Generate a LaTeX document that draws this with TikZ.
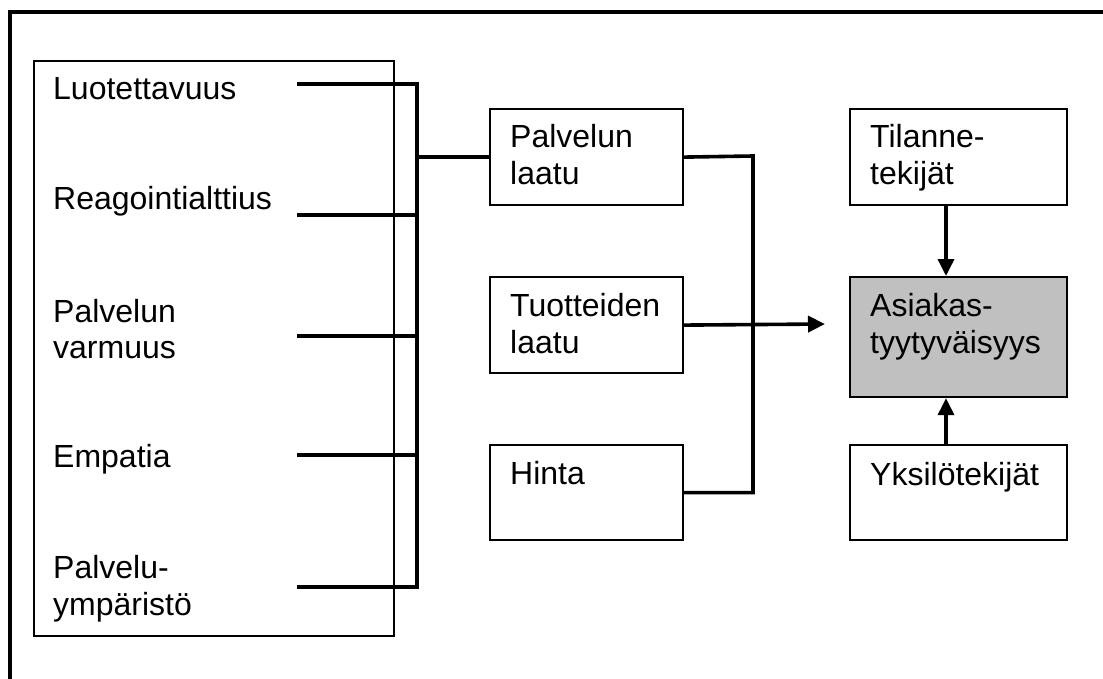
\documentclass[tikz,border=0pt]{standalone}
\usepackage{fontspec}
\setmainfont{Liberation Sans}
\usetikzlibrary{arrows.meta}
\definecolor{boxgray}{RGB}{192,192,192}
\begin{document}
\begin{tikzpicture}[x=1pt,y=-1pt,
  frame/.style={line width=3.5pt},
  box/.style={draw, line width=2.2pt, anchor=north west, inner sep=0pt},
  listbox/.style={draw, line width=1.8pt, anchor=north west, inner sep=0pt},
  txt/.style={anchor=base west, inner sep=0pt, font=\fontsize{32}{37}\selectfont},
  conn/.style={line width=3.6pt},
  arr/.style={line width=3.6pt, -{Triangle[length=17pt,width=16pt]}}]
\useasboundingbox (0,0) rectangle (1103,679);

% outer frame (top and left edges)
\draw[frame] (1103,12) -- (10,12) -- (10,679);

% quality dimensions
\node[listbox, minimum width=360pt, minimum height=575pt] (dims) at (33,60) {};
\node[txt] (d1) at (53,100) {Luotettavuus};
\node[txt] (d2) at (53,210) {Reagointialttius};
\node[txt] (d3a) at (53,322) {Palvelun};
\node[txt] (d3b) at (53,358) {varmuus};
\node[txt] (d4) at (53,467) {Empatia};
\node[txt] (d5a) at (53,578) {Palvelu-};
\node[txt] (d5b) at (53,615) {ympäristö};

% line starts and the collecting bar
\coordinate (s1) at (297,84);
\coordinate (s2) at (297,215);
\coordinate (s3) at (297,336);
\coordinate (s4) at (297,455);
\coordinate (s5) at (297,587);
\coordinate (bartop) at (417,84);
\coordinate (barbot) at (417,587);

% middle boxes
\node[box, minimum width=193pt, minimum height=96pt] (pl) at (489,108) {};
\node[txt] (pla) at (510,148) {Palvelun};
\node[txt] (plb) at (510,185) {laatu};
\node[box, minimum width=193pt, minimum height=96pt] (tl) at (489,276) {};
\node[txt] (tla) at (510,316) {Tuotteiden};
\node[txt] (tlb) at (510,353) {laatu};
\node[box, minimum width=193pt, minimum height=95pt] (hi) at (489,444) {};
\node[txt] (hia) at (510,484) {Hinta};

% right boxes
\node[box, minimum width=217pt, minimum height=96pt] (ti) at (849,108) {};
\node[txt] (tia) at (870,148) {Tilanne-};
\node[txt] (tib) at (870,185) {tekijät};
\node[box, fill=boxgray, minimum width=217pt, minimum height=120pt] (as) at (849,276) {};
\node[txt] (asa) at (870,316) {Asiakas-};
\node[txt] (asb) at (870,353) {tyytyväisyys};
\node[box, minimum width=217pt, minimum height=95pt] (yk) at (849,444) {};
\node[txt] (yka) at (870,485) {Yksilötekijät};

% connectors: dimensions to service quality
\draw[conn] (s1) -- (bartop) -- (barbot) -- (s5);
\draw[conn] (s2) -- (s2 -| bartop);
\draw[conn] (s3) -- (s3 -| bartop);
\draw[conn] (s4) -- (s4 -| bartop);
\draw[conn] (pl.west -| bartop) -- (pl.west);

% connectors: quality and price to satisfaction
\coordinate (rbar) at (753,156);
\coordinate (tip) at (825,324);
\draw[conn] (pl.east) -- (rbar) -- (rbar |- hi.east) -- (hi.east);
\draw[arr] (tl.east) -- (tip);

% situational and individual factors
\coordinate (ax) at (946,0);
\draw[arr] (ax |- ti.south) -- (ax |- as.north);
\draw[arr] (ax |- yk.north) -- (ax |- as.south);
\end{tikzpicture}
\end{document}
